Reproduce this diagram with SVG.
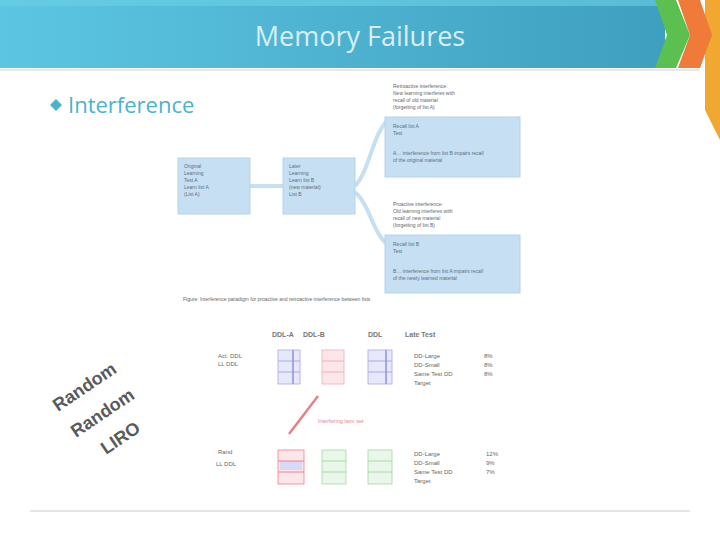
<svg xmlns="http://www.w3.org/2000/svg" width="720" height="540" viewBox="0 0 720 540">
<defs>
<linearGradient id="hdr" x1="0" y1="0" x2="1" y2="0">
<stop offset="0" stop-color="#5cc6e2"/>
<stop offset="1" stop-color="#3f9fbf"/>
</linearGradient>
<style>
.box{fill:#c6dff2;stroke:#b5d3ea;stroke-width:1}
.t{font-family:"Liberation Sans",Arial,sans-serif;font-size:5px;fill:#666}
.tb{font-family:"Liberation Sans",Arial,sans-serif;font-size:5px;fill:#5a6f85}
.th{font-family:"Liberation Sans",Arial,sans-serif;font-size:7px;font-weight:bold;fill:#777}
.tr{font-family:"Liberation Sans",Arial,sans-serif;font-size:6px;fill:#666}
.conn{fill:none;stroke:#c6dff2;stroke-width:4}
.cell{stroke-width:0.8}
</style>
</defs>
<rect width="720" height="540" fill="#ffffff"/>
<!-- header -->
<rect x="0" y="0" width="665" height="68" fill="url(#hdr)"/>
<rect x="0" y="0" width="665" height="6" fill="#6dd0e8" opacity="0.6"/>
<polygon points="705,0 720,0 720,540 720,140 705,110" fill="#f0a830"/>
<polygon points="678,0 700,0 712,35 700,68 678,68 690,35" fill="#f07a3a"/>
<polygon points="655,0 676,0 690,35 676,68 655,68 667,35" fill="#5cc050"/>
<text x="360" y="46" text-anchor="middle" font-family="'Open Sans','Liberation Sans',sans-serif" font-size="27" fill="#d8eef6">Memory Failures</text>
<line x1="0" y1="70" x2="700" y2="70" stroke="#e8e8e8" stroke-width="2"/>
<!-- bullet -->
<polygon points="56,99 62,105 56,111 50,105" fill="#4ab3cc"/>
<text x="68" y="113" font-family="'Open Sans','Liberation Sans',sans-serif" font-size="22" fill="#4ab3cc">Interference</text>
<!-- connectors -->
<g id="connectors">
<line class="conn" x1="250" y1="186" x2="283" y2="186"/>
<path class="conn" d="M355,186 C370,170 372,135 388,120"/>
<path class="conn" d="M355,192 C370,205 372,232 388,245"/>
<line x1="289" y1="434" x2="318" y2="396" stroke="#e8808a" stroke-width="2.5"/>
</g>
<g id="box1">
<rect class="box" x="178" y="158" width="72" height="56"/>
<text class="tb" x="184" y="168">Original</text>
<text class="tb" x="184" y="175">Learning</text>
<text class="tb" x="184" y="182">Test A</text>
<text class="tb" x="184" y="189">Learn list A</text>
<text class="tb" x="184" y="196">(List A)</text>
</g>
<g id="box2">
<rect class="box" x="283" y="158" width="72" height="56"/>
<text class="tb" x="289" y="168">Later</text>
<text class="tb" x="289" y="175">Learning</text>
<text class="tb" x="289" y="182">Learn list B</text>
<text class="tb" x="289" y="189">(new material)</text>
<text class="tb" x="289" y="196">List B</text>
</g>
<g id="retro">
<text class="t" x="393" y="88">Retroactive interference:</text>
<text class="t" x="393" y="95">New learning interferes with</text>
<text class="t" x="393" y="102">recall of old material</text>
<text class="t" x="393" y="109">(forgetting of list A)</text>
<rect class="box" x="385" y="117" width="135" height="60"/>
<text class="tb" x="393" y="128">Recall list A</text>
<text class="tb" x="393" y="135">Test</text>
<text class="tb" x="393" y="155">A&#8230; interference from list B impairs recall</text>
<text class="tb" x="393" y="162">of the original material</text>
</g>
<g id="pro">
<text class="t" x="393" y="206">Proactive interference:</text>
<text class="t" x="393" y="213">Old learning interferes with</text>
<text class="t" x="393" y="220">recall of new material</text>
<text class="t" x="393" y="227">(forgetting of list B)</text>
<rect class="box" x="385" y="235" width="135" height="58"/>
<text class="tb" x="393" y="246">Recall list B</text>
<text class="tb" x="393" y="253">Test</text>
<text class="tb" x="393" y="273">B&#8230; interference from list A impairs recall</text>
<text class="tb" x="393" y="280">of the newly learned material</text>
</g>
<text class="t" x="183" y="301" font-size="4.5">Figure: Interference paradigm for proactive and retroactive interference between lists</text>
<!-- table -->
<g id="table">
<text class="th" x="272" y="337">DDL-A</text>
<text class="th" x="303" y="337">DDL-B</text>
<text class="th" x="368" y="337">DDL</text>
<text class="th" x="405" y="337">Late Test</text>
<text class="tr" x="218" y="358">Act. DDL</text>
<text class="tr" x="218" y="366">LL DDL</text>
<g id="row1">
<rect class="cell" x="278" y="350" width="22" height="34" fill="#e8e8fb" stroke="#a8a8ec"/>
<line x1="278" y1="361" x2="300" y2="361" stroke="#a8a8ec"/><line x1="278" y1="372" x2="300" y2="372" stroke="#a8a8ec"/>
<line x1="293" y1="350" x2="293" y2="384" stroke="#9090e0" stroke-width="1.5"/>
<rect class="cell" x="322" y="350" width="22" height="34" fill="#fbe6ea" stroke="#f0b0bc"/>
<line x1="322" y1="361" x2="344" y2="361" stroke="#f0b0bc"/><line x1="322" y1="372" x2="344" y2="372" stroke="#f0b0bc"/>
<rect class="cell" x="368" y="350" width="24" height="34" fill="#e8e8fb" stroke="#a8a8ec"/>
<line x1="368" y1="361" x2="392" y2="361" stroke="#a8a8ec"/><line x1="368" y1="372" x2="392" y2="372" stroke="#a8a8ec"/>
<line x1="386" y1="350" x2="386" y2="384" stroke="#9090e0" stroke-width="1.5"/>
<text class="tr" x="414" y="358">DD-Large</text>
<text class="tr" x="414" y="367">DD-Small</text>
<text class="tr" x="414" y="376">Same Test DD</text>
<text class="tr" x="414" y="385">Target</text>
<text class="tr" x="484" y="358">8%</text>
<text class="tr" x="484" y="367">8%</text>
<text class="tr" x="484" y="376">8%</text>
</g>
<text x="318" y="423" font-family="'Liberation Sans',Arial,sans-serif" font-size="5.5" fill="#e8808a">Interfering item set</text>
<text class="tr" x="218" y="454">Rand</text>
<text class="tr" x="216" y="466">LL DDL</text>
<g id="row2">
<rect class="cell" x="278" y="450" width="26" height="34" fill="#fbe6ea" stroke="#f08090"/>
<rect x="280" y="461" width="22" height="9" fill="#d8d8f8"/>
<line x1="278" y1="461" x2="304" y2="461" stroke="#f08090"/><line x1="278" y1="472" x2="304" y2="472" stroke="#f08090"/>
<rect class="cell" x="322" y="450" width="24" height="34" fill="#eaf6ea" stroke="#a8d8a8"/>
<line x1="322" y1="461" x2="346" y2="461" stroke="#a8d8a8"/><line x1="322" y1="472" x2="346" y2="472" stroke="#a8d8a8"/>
<rect class="cell" x="368" y="450" width="24" height="34" fill="#eaf6ea" stroke="#a8d8a8"/>
<line x1="368" y1="461" x2="392" y2="461" stroke="#a8d8a8"/><line x1="368" y1="472" x2="392" y2="472" stroke="#a8d8a8"/>
<text class="tr" x="414" y="456">DD-Large</text>
<text class="tr" x="414" y="465">DD-Small</text>
<text class="tr" x="414" y="474">Same Test DD</text>
<text class="tr" x="414" y="483">Target</text>
<text class="tr" x="486" y="456">12%</text>
<text class="tr" x="486" y="465">9%</text>
<text class="tr" x="486" y="474">7%</text>
</g>
</g>
<g id="rotated" font-family="'Liberation Sans',Arial,sans-serif" font-size="18" font-weight="bold" fill="#5a5a5a">
<text transform="translate(58,412) rotate(-34)">Random</text>
<text transform="translate(76,438) rotate(-34)">Random</text>
<text transform="translate(106,455) rotate(-34)">LIRO</text>
</g>
<line x1="30" y1="511" x2="690" y2="511" stroke="#e6e6e6" stroke-width="2"/>
</svg>
